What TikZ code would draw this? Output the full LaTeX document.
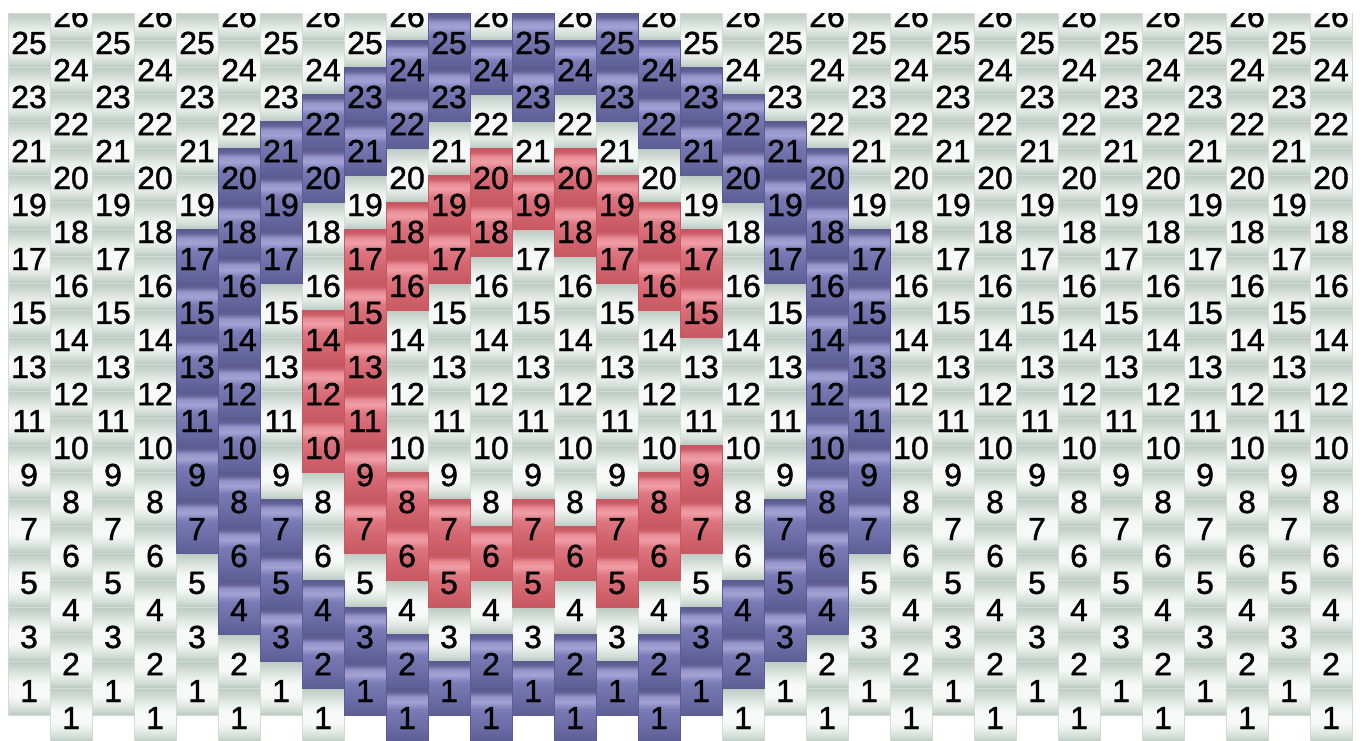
\documentclass[tikz,border=0pt]{standalone}
\usepackage{fontspec}
\setmainfont{Liberation Sans}
\newfontfamily\beadfont[FakeBold=1.2]{Liberation Sans}
\definecolor{sA}{RGB}{186,200,193}
\definecolor{sB}{RGB}{214,224,219}
\definecolor{sW}{RGB}{247,249,248}
\definecolor{sC}{RGB}{226,233,229}
\definecolor{sD}{RGB}{202,213,207}
\definecolor{sE}{RGB}{188,201,194}
\definecolor{sEdge}{RGB}{210,219,214}
\definecolor{bA}{RGB}{94,94,150}
\definecolor{bB}{RGB}{108,108,166}
\definecolor{bC}{RGB}{122,122,182}
\definecolor{bD}{RGB}{162,162,212}
\definecolor{bE}{RGB}{148,148,200}
\definecolor{bF}{RGB}{100,100,156}
\definecolor{bG}{RGB}{88,88,140}
\definecolor{bEdge}{RGB}{92,92,146}
\definecolor{rA}{RGB}{200,88,98}
\definecolor{rB}{RGB}{210,100,110}
\definecolor{rC}{RGB}{222,118,128}
\definecolor{rD}{RGB}{240,158,166}
\definecolor{rE}{RGB}{232,140,150}
\definecolor{rF}{RGB}{206,96,106}
\definecolor{rG}{RGB}{196,84,94}
\definecolor{rEdge}{RGB}{198,88,98}
\pgfdeclareverticalshading{silverbead}{100bp}{color(0bp)=(sA); color(25bp)=(sA); color(31bp)=(sB); color(42bp)=(sW); color(54bp)=(sW); color(62bp)=(sC); color(70bp)=(sD); color(75bp)=(sE); color(100bp)=(sE)}
\pgfdeclareverticalshading{bluebead}{100bp}{color(0bp)=(bA); color(25bp)=(bA); color(40bp)=(bB); color(55bp)=(bC); color(62bp)=(bD); color(67bp)=(bE); color(71bp)=(bF); color(75bp)=(bG); color(100bp)=(bG)}
\pgfdeclareverticalshading{redbead}{100bp}{color(0bp)=(rA); color(25bp)=(rA); color(40bp)=(rB); color(55bp)=(rC); color(62bp)=(rD); color(67bp)=(rE); color(71bp)=(rF); color(75bp)=(rG); color(100bp)=(rG)}
\begin{document}
\begin{tikzpicture}[x=1pt,y=-1pt,
  bead/.style={line width=0.5pt},
  silverb/.style={bead,shading=silverbead,draw=sEdge},
  blueb/.style={bead,shading=bluebead,draw=bEdge},
  redb/.style={bead,shading=redbead,draw=rEdge},
  lab/.style={font=\beadfont\fontsize{32}{32}\selectfont,text=black,inner sep=0pt,anchor=center}]
\useasboundingbox (0,0) rectangle (1364,740);
\fill[white] (0,0) rectangle (1364,740);
\begin{scope}
\clip (0,13) rectangle (1364,740);
% silver beads
\foreach \c in {0,2,...,30}{\foreach \p in {1,3,...,25}{\shade[silverb] ({8+42*\c},{688-27*\p}) rectangle ++(42,54);}}
\foreach \c in {1,3,...,31}{\foreach \p in {0,2,...,26}{\shade[silverb] ({8+42*\c},{688-27*\p}) rectangle ++(42,54);}}
% blue beads
\foreach \c/\lst in {4/{7,9,11,13,15,17},5/{4,6,8,10,12,14,16,18,20},6/{3,5,7,17,19,21},7/{2,4,20,22},8/{1,3,21,23},9/{0,2,22,24},10/{1,23,25},11/{0,2,24},12/{1,23,25},13/{0,2,24},14/{1,23,25},15/{0,2,22,24},16/{1,3,21,23},17/{2,4,20,22},18/{3,5,7,17,19,21},19/{4,6,8,10,12,14,16,18,20},20/{7,9,11,13,15,17}}{
  \foreach \p in \lst {\shade[blueb] ({8+42*\c},{688-27*\p}) rectangle ++(42,54);}}
% red beads
\foreach \c/\lst in {7/{10,12,14},8/{7,9,11,13,15,17},9/{6,8,16,18},10/{5,7,17,19},11/{6,18,20},12/{5,7,19},13/{6,18,20},14/{5,7,17,19},15/{6,8,16,18},16/{7,9,15,17}}{
  \foreach \p in \lst {\shade[redb] ({8+42*\c},{688-27*\p}) rectangle ++(42,54);}}
% labels
\foreach \c in {0,2,...,30}{\foreach \p in {1,3,...,25}{\node[lab] (l\c-\p) at ({29+42*\c},{718-27*\p}) {\p};}}
\foreach \c in {1,3,...,31}{\foreach \p in {0,2,...,26}{\node[lab] (l\c-\p) at ({29+42*\c},{718-27*\p}) {\ifnum\p=0 1\else\p\fi};}}
\end{scope}
\end{tikzpicture}
\end{document}
